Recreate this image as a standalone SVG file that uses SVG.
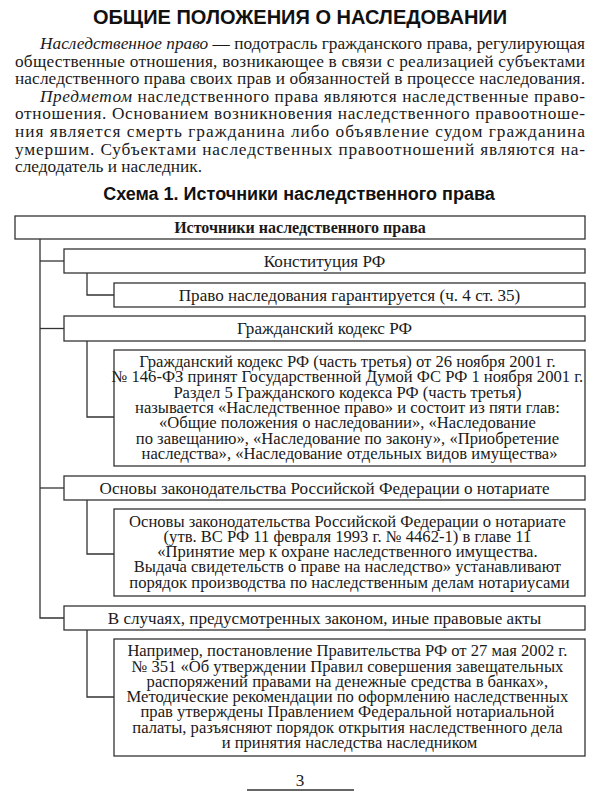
<svg xmlns="http://www.w3.org/2000/svg" width="600" height="800" viewBox="0 0 600 800">
<style>
.bg{fill:#ffffff}
.h{font-family:"Liberation Sans",Arial,sans-serif;font-weight:bold;fill:#111;text-anchor:middle}
.p{font-family:"Liberation Serif","Times New Roman",serif;font-size:17.3px;fill:#1a1a1a}
.i{font-style:italic}
.b{fill:#fff;stroke:#333;stroke-width:1.3}
.t{font-family:"Liberation Serif","Times New Roman",serif;font-size:16.6px;fill:#1a1a1a;text-anchor:middle}
.s{font-size:17.1px}
.tb{font-weight:bold;font-size:16px}
.c{fill:none;stroke:#333;stroke-width:1.3}
</style>
<rect class="bg" x="0" y="0" width="600" height="800"/>
<text class="h" x="300" y="24" font-size="20">ОБЩИЕ ПОЛОЖЕНИЯ О НАСЛЕДОВАНИИ</text>
<g id="intro">
<text class="p" x="40" y="49" textLength="545" lengthAdjust="spacing"><tspan class="i">Наследственное право</tspan> — подотрасль гражданского права, регулирующая</text>
<text class="p" x="15" y="66.6" textLength="570" lengthAdjust="spacing">общественные отношения, возникающее в связи с реализацией субъектами</text>
<text class="p" x="15" y="84.2" textLength="570" lengthAdjust="spacing">наследственного права своих прав и обязанностей в процессе наследования.</text>
<text class="p" x="40" y="101.8" textLength="545" lengthAdjust="spacing"><tspan class="i">Предметом</tspan> наследственного права являются наследственные право-</text>
<text class="p" x="15" y="119.4" textLength="570" lengthAdjust="spacing">отношения. Основанием возникновения наследственного правоотноше-</text>
<text class="p" x="15" y="137" textLength="570" lengthAdjust="spacing">ния является смерть гражданина либо объявление судом гражданина</text>
<text class="p" x="15" y="154.6" textLength="570" lengthAdjust="spacing">умершим. Субъектами наследственных правоотношений являются на-</text>
<text class="p" x="15" y="172.2">следодатель и наследник.</text>
</g>
<text class="h" x="299" y="200" font-size="18">Схема 1. Источники наследственного права</text>
<g id="connectors">
<path class="c" d="M40 239 V618 H64"/>
<path class="c" d="M40 261 H64"/>
<path class="c" d="M40 328.5 H64"/>
<path class="c" d="M40 488 H64"/>
<path class="c" d="M87 273 V295 H114"/>
<path class="c" d="M87 341 V417 H114"/>
<path class="c" d="M87 500 V554 H114"/>
<path class="c" d="M87 630 V697 H114"/>
</g>
<g id="n-root">
<rect class="b" x="15" y="216" width="570" height="23"/>
<text class="t tb" x="300" y="232.5">Источники наследственного права</text>
</g>
<g id="n-konst">
<rect class="b" x="64" y="249" width="521" height="24"/>
<text class="t s" x="324.5" y="266.5">Конституция РФ</text>
</g>
<g id="n-konst-1">
<rect class="b" x="114" y="283" width="471" height="24"/>
<text class="t s" x="349.5" y="300.5">Право наследования гарантируется (ч. 4 ст. 35)</text>
</g>
<g id="n-gk">
<rect class="b" x="64" y="316" width="521" height="25"/>
<text class="t s" x="324.5" y="334">Гражданский кодекс РФ</text>
</g>
<g id="n-gk-1">
<rect class="b" x="114" y="350" width="471" height="116"/>
<text class="t">
<tspan x="349.5" y="367">Гражданский кодекс РФ (часть третья) от 26 ноября 2001 г.</tspan>
<tspan x="349.5" y="382.3">№ 146-ФЗ принят Государственной Думой ФС РФ 1 ноября 2001 г.</tspan>
<tspan x="349.5" y="397.6">Раздел 5 Гражданского кодекса РФ (часть третья)</tspan>
<tspan x="349.5" y="412.9">называется «Наследственное право» и состоит из пяти глав:</tspan>
<tspan x="349.5" y="428.2">«Общие положения о наследовании», «Наследование</tspan>
<tspan x="349.5" y="443.5">по завещанию», «Наследование по закону», «Приобретение</tspan>
<tspan x="349.5" y="458.8">наследства», «Наследование отдельных видов имущества»</tspan>
</text>
</g>
<g id="n-not">
<rect class="b" x="64" y="476" width="521" height="24"/>
<text class="t s" x="324.5" y="493.5">Основы законодательства Российской Федерации о нотариате</text>
</g>
<g id="n-not-1">
<rect class="b" x="114" y="509" width="471" height="87"/>
<text class="t">
<tspan x="349.5" y="526.5">Основы законодательства Российской Федерации о нотариате</tspan>
<tspan x="349.5" y="541.8">(утв. ВС РФ 11 февраля 1993 г. № 4462-1) в главе 11</tspan>
<tspan x="349.5" y="557.1">«Принятие мер к охране наследственного имущества.</tspan>
<tspan x="349.5" y="572.4">Выдача свидетельств о праве на наследство» устанавливают</tspan>
<tspan x="349.5" y="587.7">порядок производства по наследственным делам нотариусами</tspan>
</text>
</g>
<g id="n-other">
<rect class="b" x="64" y="606" width="521" height="24"/>
<text class="t s" x="324.5" y="623.5">В случаях, предусмотренных законом, иные правовые акты</text>
</g>
<g id="n-other-1">
<rect class="b" x="114" y="639" width="471" height="117"/>
<text class="t">
<tspan x="349.5" y="656.2">Например, постановление Правительства РФ от 27 мая 2002 г.</tspan>
<tspan x="349.5" y="671.5">№ 351 «Об утверждении Правил совершения завещательных</tspan>
<tspan x="349.5" y="686.8">распоряжений правами на денежные средства в банках»,</tspan>
<tspan x="349.5" y="702.1">Методические рекомендации по оформлению наследственных</tspan>
<tspan x="349.5" y="717.4">прав утверждены Правлением Федеральной нотариальной</tspan>
<tspan x="349.5" y="732.7">палаты, разъясняют порядок открытия наследственного дела</tspan>
<tspan x="349.5" y="748">и принятия наследства наследником</tspan>
</text>
</g>
<text class="t s" x="300" y="786">3</text>
<line class="c" x1="247" y1="790" x2="354" y2="790"/>
</svg>
